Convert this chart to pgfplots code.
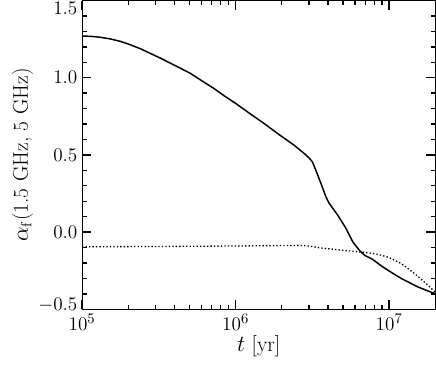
\documentclass[border=0pt]{standalone}
\usepackage{pgfplots}
\pgfplotsset{compat=1.18}

\begin{document}
\begin{tikzpicture}
% picture frame: axis box sits at (0,0)--(264.75pt,231.4pt)
\path[use as bounding box] (-61.5pt,-41pt) rectangle (265.25pt,231.8pt);
\begin{axis}[
  name=ax, scale only axis, at={(0,0)}, anchor=south west,
  width=264.75pt, height=231.4pt,
  xmode=log, xmin=1e5, xmax=2e7,
  ymin=-0.5, ymax=1.5,
  xtick={1e5,1e6,1e7},
  ytick={-0.5,0,0.5,1,1.5},
  yticklabels={\raisebox{3.5pt}[\height][\depth]{$-0.5$},$0.0$,$0.5$,$1.0$,\raisebox{-6pt}[\height][\depth]{$1.5$}},
  minor y tick num=4,
  major tick length=7pt, minor tick length=3.5pt,
  tick style={black, line width=1pt},
  axis line style={line width=0.8pt},
  tick label style={font=\fontsize{15}{17}\selectfont},
  label style={font=\fontsize{16}{18}\selectfont},
  xlabel={$t$ [yr]},
  ylabel={$\alpha_{\rm f}$(1.5 GHz, 5 GHz)},
  xlabel style={yshift=3pt},
  ylabel style={yshift=-3pt},
]
% dotted curve
\addplot[black, line width=1pt, dash pattern=on 1pt off 1.6pt] table {
t y
1.0e5 -0.095
3.162e5 -0.093
1.0e6 -0.090
1.995e6 -0.087
2.630e6 -0.086
2.951e6 -0.089
3.548e6 -0.102
4.074e6 -0.108
4.898e6 -0.117
5.754e6 -0.124
6.607e6 -0.129
7.762e6 -0.137
8.913e6 -0.150
1.0e7 -0.165
1.197e7 -0.203
1.462e7 -0.268
1.791e7 -0.344
2.0e7 -0.390
};
% solid curve
\addplot[black, solid, line width=1.1pt] table {
t y
1.0e5 1.270
1.148e5 1.268
1.312e5 1.262
1.514e5 1.252
1.770e5 1.236
2.042e5 1.215
2.393e5 1.188
2.818e5 1.155
3.236e5 1.127
3.981e5 1.082
5.082e5 1.028
6.026e5 0.980
7.211e5 0.931
8.511e5 0.880
1.0e6 0.834
1.230e6 0.770
1.531e6 0.704
1.905e6 0.634
2.404e6 0.563
2.793e6 0.510
3.013e6 0.480
3.162e6 0.455
3.334e6 0.400
3.597e6 0.315
3.873e6 0.229
4.074e6 0.186
4.624e6 0.110
5.236e6 0.024
5.794e6 -0.063
6.397e6 -0.117
6.918e6 -0.150
7.413e6 -0.165
7.816e6 -0.177
8.872e6 -0.218
1.0e7 -0.252
1.197e7 -0.300
1.538e7 -0.355
1.778e7 -0.380
2.0e7 -0.400
};
\end{axis}
\end{tikzpicture}
\end{document}
